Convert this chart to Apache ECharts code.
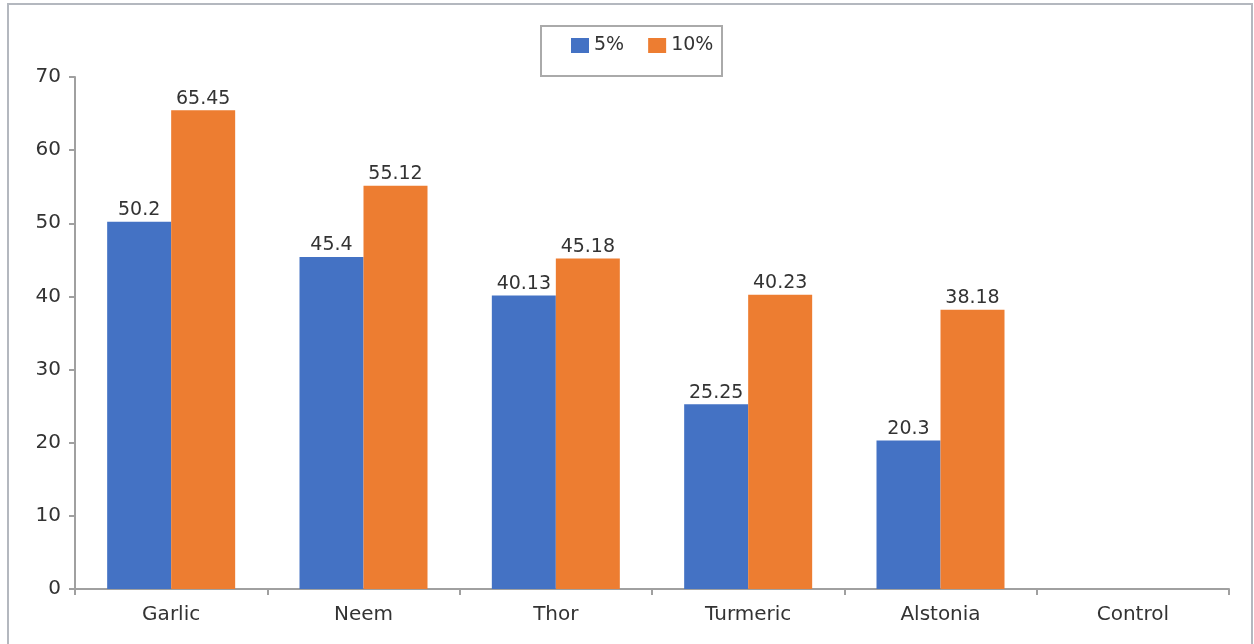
<!DOCTYPE html>
<html>
<head>
<meta charset="utf-8">
<script src="https://cdn.jsdelivr.net/npm/echarts@6/dist/echarts.min.js"></script>
<style>
  html, body { margin: 0; padding: 0; background: #fff; }
  #chart { width: 1254px; height: 644px; }
</style>
</head>
<body>
<div id="chart"></div>
<script>
let categories = ['Garlic', 'Neem', 'Thor', 'Turmeric', 'Alstonia', 'Control']
let values5 = [50.2, 45.4, 40.13, 25.25, 20.3, null]
let values10 = [65.45, 55.12, 45.18, 40.23, 38.18, null]
let yTicks = { min: 0, max: 70, interval: 10 }

let chart = echarts.init(document.getElementById('chart'))
let fontFamily = '"DejaVu Sans", Verdana, sans-serif'

let labelStyle = {
  show: true,
  position: 'top',
  distance: 2,
  color: '#333',
  fontSize: 19,
  fontFamily: fontFamily
}

let option = {
  animation: false,
  graphic: [
    {
      type: 'rect',
      shape: { x: 8, y: 4, width: 1244, height: 660 },
      style: { fill: 'none', stroke: '#b4b8bf', lineWidth: 2 },
      silent: true,
      z: -1
    },
    {
      type: 'rect',
      shape: { x: 541, y: 26, width: 181, height: 50 },
      style: { fill: '#fff', stroke: '#aaa', lineWidth: 2 },
      silent: true,
      z: -1
    }
  ],
  legend: {
    left: 566,
    top: 31,
    itemWidth: 18,
    itemHeight: 15,
    itemGap: 24,
    icon: 'rect',
    textStyle: { fontSize: 19, color: '#333', fontFamily: fontFamily, padding: [0, 0, 0, 0] },
    data: ['5%', '10%']
  },
  grid: { left: 75, right: 25, top: 77, bottom: 55, containLabel: false },
  xAxis: {
    type: 'category',
    data: categories,
    axisLine: { lineStyle: { color: '#a0a0a0', width: 2 } },
    axisTick: { show: true, length: 6, lineStyle: { color: '#a0a0a0', width: 2 } },
    axisLabel: { color: '#333', fontSize: 20, fontFamily: fontFamily, margin: 16 }
  },
  yAxis: {
    type: 'value',
    min: yTicks.min,
    max: yTicks.max,
    interval: yTicks.interval,
    splitLine: { show: false },
    axisLine: { show: true, lineStyle: { color: '#a0a0a0', width: 2 } },
    axisTick: { show: true, length: 6, lineStyle: { color: '#a0a0a0', width: 2 } },
    axisLabel: { color: '#333', fontSize: 20, fontFamily: fontFamily, margin: 14 }
  },
  series: [
    {
      name: '5%',
      type: 'bar',
      data: values5,
      barWidth: 64,
      barGap: '0%',
      itemStyle: { color: '#4472c4' },
      label: labelStyle
    },
    {
      name: '10%',
      type: 'bar',
      data: values10,
      barWidth: 64,
      itemStyle: { color: '#ed7d31' },
      label: labelStyle
    }
  ]
}

chart.setOption(option)
</script>
</body>
</html>
